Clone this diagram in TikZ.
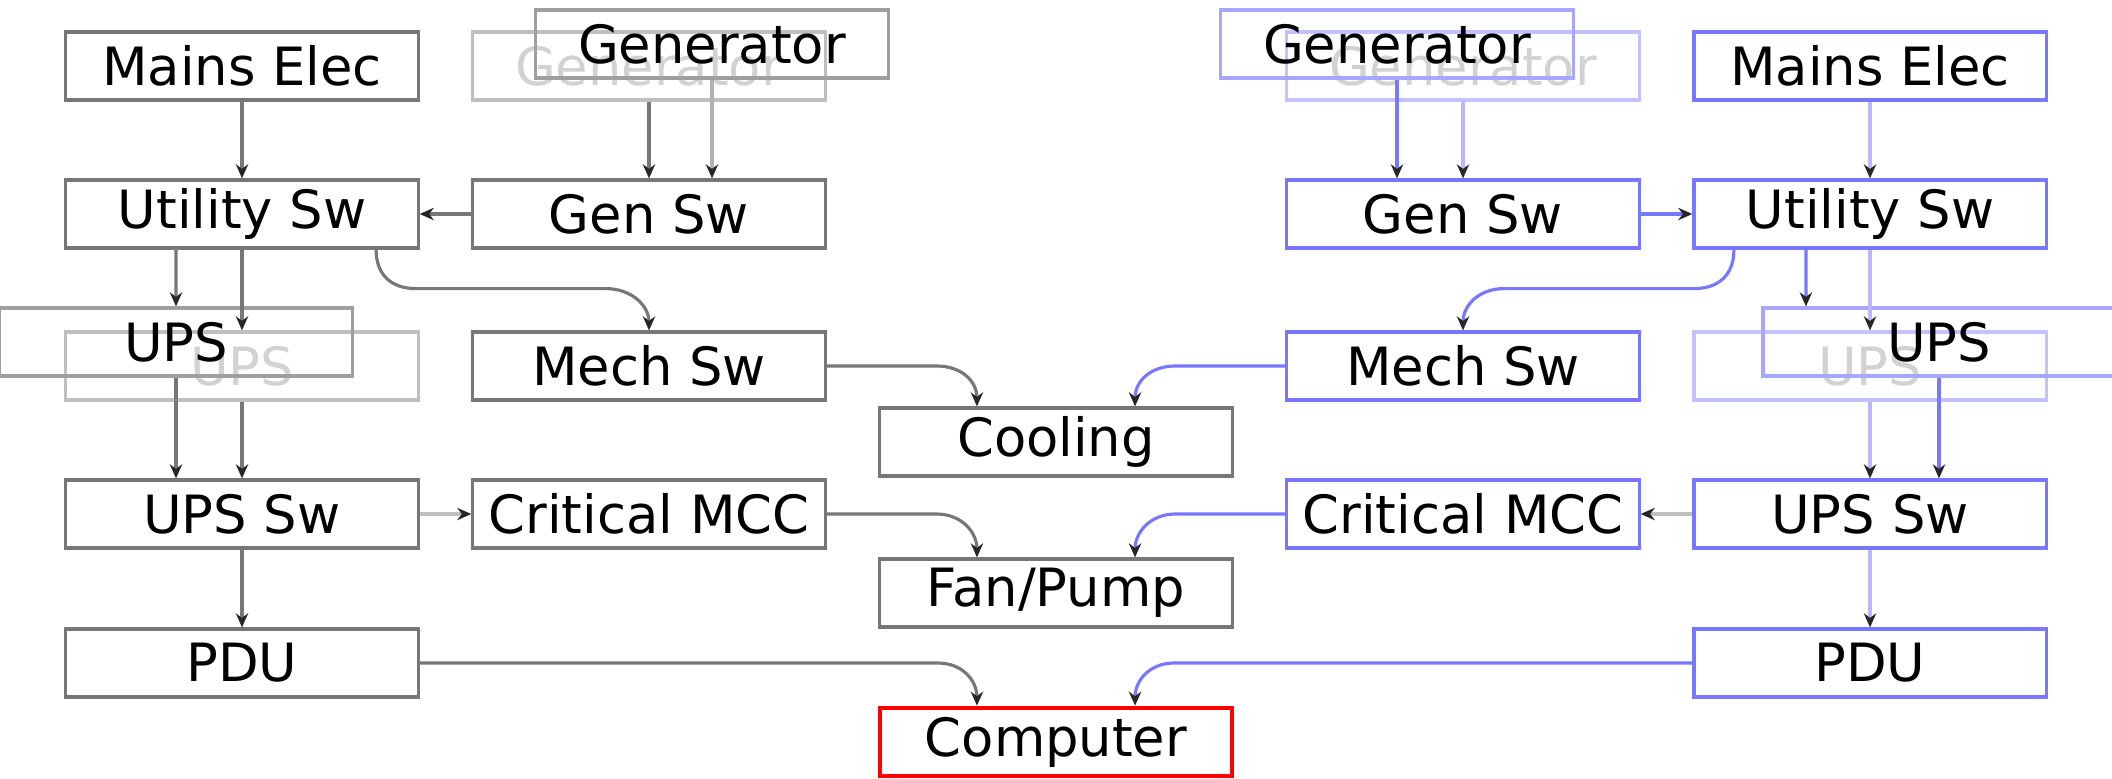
\documentclass[tikz,border=0pt]{standalone}
\usepackage{fontspec}
\setmainfont{DejaVu Sans}
\usetikzlibrary{arrows.meta}
\definecolor{boxgray}{HTML}{777777}
\definecolor{boxblue}{HTML}{7777FF}
\definecolor{lblue}{HTML}{B8B8FF}

\begin{document}
\begin{tikzpicture}[x=0.01cm,y=-0.01cm,
	box/.style={draw=boxgray,line width=0.9pt,minimum width=3.52cm,minimum height=0.68cm,inner sep=0pt,font=\fontsize{15}{18}\selectfont},
	bbox/.style={box,draw=boxblue},
	ghost/.style={box,draw=gray!50,text=gray!35},
	over/.style={box,draw=gray!75},
	bghost/.style={box,draw=boxblue!45,text=gray!35},
	bover/.style={box,draw=boxblue!65},
	conn/.style={draw=boxgray,line width=0.9pt,-{Stealth[length=4pt,width=3.5pt,color=black!85]}},
	bconn/.style={conn,draw=boxblue},
	fconn/.style={conn,draw=lblue,line width=1.3pt}]
	\useasboundingbox (0,0) rectangle (2112,778);
	% left side
	\node[box] (mainsL) at (242,66) {Mains Elec};
	\node[ghost] (genfL) at (649,66) {Generator};
	\node[over] (genL) at (712,44) {Generator};
	\node[box] (utilL) at (242,214) {Utility Sw};
	\node[box] (genswL) at (649,214) {Gen Sw};
	\node[ghost] (upsfL) at (242,366) {UPS};
	\node[over] (upsL) at (176,342) {UPS};
	\node[box] (mechL) at (649,366) {Mech Sw};
	\node[box] (upsswL) at (242,514) {UPS Sw};
	\node[box] (mccL) at (649,514) {Critical MCC};
	\node[box] (pduL) at (242,663) {PDU};
	% middle
	\node[box] (cool) at (1056,442) {Cooling};
	\node[box] (fan) at (1056,593) {Fan/Pump};
	\node[box,draw=red,line width=1.3pt] (comp) at (1056,742) {Computer};
	% right side
	\node[bbox] (mainsR) at (1870,66) {Mains Elec};
	\node[bghost] (genfR) at (1463,66) {Generator};
	\node[bover] (genR) at (1397,44) {Generator};
	\node[bbox] (utilR) at (1870,214) {Utility Sw};
	\node[bbox] (genswR) at (1463,214) {Gen Sw};
	\node[bghost] (upsfR) at (1870,366) {UPS};
	\node[bover] (upsR) at (1939,342) {UPS};
	\node[bbox] (mechR) at (1463,366) {Mech Sw};
	\node[bbox] (upsswR) at (1870,514) {UPS Sw};
	\node[bbox] (mccR) at (1463,514) {Critical MCC};
	\node[bbox] (pduR) at (1870,663) {PDU};

	\draw[conn] (mainsL.south) -- (utilL.north);
	\draw[conn] (genfL.south) -- (genswL.north);
	\draw[conn,draw=gray!60] (genL.south) -- (genL.south |- genswL.north);
	\draw[conn] (genswL.west) -- (utilL.east);
	\draw[conn] ([xshift=-0.66cm]utilL.south) -- (upsL.north);
	\draw[conn] (utilL.south) -- (upsfL.north);
	\draw[conn] (upsL.south) -- (upsL.south |- upsswL.north);
	\draw[conn] (upsfL.south) -- (upsswL.north);
	\draw[conn,draw=gray!50] (upsswL.east) -- (mccL.west);
	\draw[conn] (upsswL.south) -- (pduL.north);
	\draw[conn] ([xshift=1.34cm]utilL.south) .. controls +(0,25) and +(-25,0) .. ++(40,39) -- ++(190,0) .. controls +(25,0) and +(0,-25) .. (mechL.north);
	\draw[conn] (mechL.east) -- ++(110,0) .. controls +(25,0) and +(0,-25) .. ([xshift=-0.79cm]cool.north);
	\draw[conn] (mccL.east) -- ++(110,0) .. controls +(25,0) and +(0,-25) .. ([xshift=-0.79cm]fan.north);
	\draw[conn] (pduL.east) -- ++(518,0) .. controls +(25,0) and +(0,-25) .. ([xshift=-0.79cm]comp.north);

	\draw[fconn] (mainsR.south) -- (utilR.north);
	\draw[bconn] (genR.south) -- (genR.south |- genswR.north);
	\draw[fconn] (genfR.south) -- (genswR.north);
	\draw[bconn] (genswR.east) -- (utilR.west);
	\draw[bconn] ([xshift=-0.64cm]utilR.south) -- ([xshift=-1.33cm]upsR.north);
	\draw[fconn] (utilR.south) -- (upsfR.north);
	\draw[bconn] (upsR.south) -- (upsR.south |- upsswR.north);
	\draw[fconn] (upsfR.south) -- (upsswR.north);
	\draw[conn,draw=gray!50] (upsswR.west) -- (mccR.east);
	\draw[fconn] (upsswR.south) -- (pduR.north);
	\draw[bconn] ([xshift=-1.36cm]utilR.south) .. controls +(0,25) and +(25,0) .. ++(-40,39) -- ++(-190,0) .. controls +(-25,0) and +(0,-25) .. (mechR.north);
	\draw[bconn] (mechR.west) -- ++(-110,0) .. controls +(-25,0) and +(0,-25) .. ([xshift=0.79cm]cool.north);
	\draw[bconn] (mccR.west) -- ++(-110,0) .. controls +(-25,0) and +(0,-25) .. ([xshift=0.79cm]fan.north);
	\draw[bconn] (pduR.west) -- ++(-518,0) .. controls +(-25,0) and +(0,-25) .. ([xshift=0.79cm]comp.north);
\end{tikzpicture}
\end{document}
